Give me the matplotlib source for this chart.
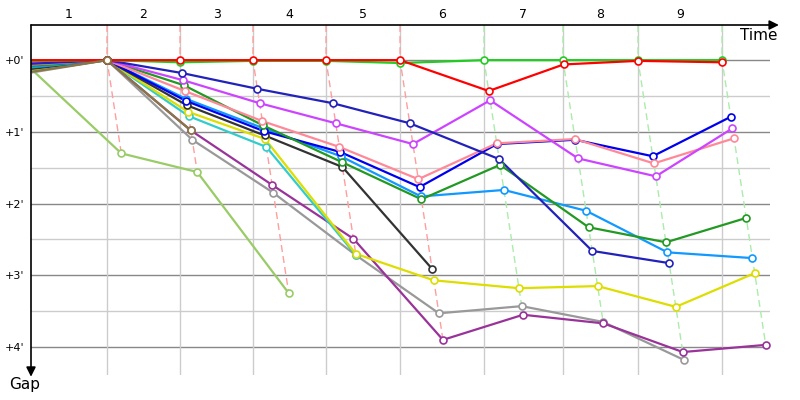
import matplotlib
matplotlib.use('Agg')
import matplotlib.pyplot as plt
import matplotlib.colors as mcolors
from matplotlib.transforms import blended_transform_factory

# leader's cumulative time (minutes) at the end of each lap, lap 0 = start
lead_times = [0, 6.91, 13.55, 20.18, 26.82, 33.55, 41.18, 48.36, 55.18, 62.82]
lap_labels = ['1', '2', '3', '4', '5', '6', '7', '8', '9']
gap_ticks = [0, 1, 2, 3, 4]
gap_labels = ["+0'", "+1'", "+2'", "+3'", "+4'"]

# gap to the leader (minutes) after each lap, lap 0 .. lap 9
red_gaps = [0, 0, 0, 0, 0, 0, 0.43, 0.06, 0.01, 0.03]
lime_gaps = [0.01, 0, 0.03, 0.01, 0.01, 0.04, 0, 0, 0, 0]
navy_gaps = [0.05, 0, 0.18, 0.40, 0.60, 0.88, 1.38, 2.66, 2.83]
magenta_gaps = [0.03, 0, 0.28, 0.60, 0.88, 1.17, 0.56, 1.37, 1.62, 0.95]
pink_gaps = [0.06, 0, 0.43, 0.85, 1.21, 1.66, 1.16, 1.10, 1.44, 1.09]
green_gaps = [0.08, 0, 0.35, 0.91, 1.42, 1.94, 1.46, 2.33, 2.54, 2.20]
blue_gaps = [0.07, 0, 0.57, 0.99, 1.28, 1.77, 1.17, 1.11, 1.34, 0.79]
sky_gaps = [0.10, 0, 0.54, 0.95, 1.34, 1.90, 1.81, 2.10, 2.68, 2.76]
black_gaps = [0.12, 0, 0.63, 1.05, 1.49, 2.91]
yellow_gaps = [0.13, 0, 0.72, 1.10, 2.70, 3.07, 3.18, 3.15, 3.44, 2.97]
cyan_gaps = [0.14, 0, 0.78, 1.21, 2.72]
purple_gaps = [0.15, 0, 0.98, 1.74, 2.49, 3.90, 3.55, 3.67, 4.07, 3.97]
gray_gaps = [0.17, 0, 1.11, 1.85, 2.72, 3.53, 3.43, 3.65, 4.18]
yellowgreen_gaps = [0.14, 1.30, 1.56, 3.25]
olive_gaps = [0.16, 0, 0.98]

# drawing order: first entries lie underneath
series = [
    (yellowgreen_gaps, '#99cc66'),
    (gray_gaps, '#999999'),
    (purple_gaps, '#993399'),
    (cyan_gaps, '#33cccc'),
    (yellow_gaps, '#dddd00'),
    (black_gaps, '#333333'),
    (sky_gaps, '#1199ff'),
    (blue_gaps, '#0000ee'),
    (green_gaps, '#229922'),
    (pink_gaps, '#ff8899'),
    (magenta_gaps, '#cc44ff'),
    (navy_gaps, '#2222bb'),
    (lime_gaps, '#22cc22'),
    (red_gaps, '#ff0000'),
    (olive_gaps, '#887744'),
]

fig = plt.figure(figsize=(8, 4), dpi=100)
ax = fig.add_axes([31 / 800, 25 / 400, 739 / 800, 350 / 400])

xmax = 67.18
ytop, ybot = -0.49, 4.39
ax.set_xlim(0, xmax)
ax.set_ylim(ybot, ytop)

# grid
for g in [0.5, 1.5, 2.5, 3.5]:
    ax.axhline(g, color='#cccccc', lw=1, zorder=0)
for g in gap_ticks:
    ax.axhline(g, color='#888888', lw=1, zorder=0)
for t in lead_times[1:]:
    ax.axvline(t, color='#cccccc', lw=1, zorder=0)

# lap lines, coloured like the lap leader
leader_order = ['#ff0000', '#22cc22']
leader_gaps = [red_gaps, lime_gaps]
for lap in range(1, len(lead_times)):
    gaps = [s[0][lap] for s in series if len(s[0]) > lap]
    lead_col = leader_order[0] if leader_gaps[0][lap] <= leader_gaps[1][lap] else leader_order[1]
    rgb = mcolors.to_rgb(lead_col)
    light = tuple(c + (1 - c) * 0.62 for c in rgb)
    t0 = lead_times[lap]
    gmax = max(gaps)
    ax.plot([t0, t0, t0 + gmax], [ytop, 0, gmax], color=light, lw=1,
            ls=(0, (5, 3)), zorder=1)

# every car: x = leader time + gap
for gaps, col in series:
    xs = [lead_times[i] + g for i, g in enumerate(gaps)]
    ax.plot(xs, gaps, color=col, lw=1.6, zorder=3, solid_joinstyle='round')
    ax.plot(xs[1:], gaps[1:], ls='none', marker='o', ms=5, mfc='white',
            mec=col, mew=1.2, zorder=4)

# lap numbers above the axis
trans = blended_transform_factory(ax.transData, ax.transAxes)
for i, lab in enumerate(lap_labels):
    mid = (lead_times[i] + lead_times[i + 1]) / 2
    ax.text(mid, 1.03, lab, transform=trans, ha='center', va='center', fontsize=9)

ax.set_xticks([])
ax.set_yticks(gap_ticks)
ax.set_yticklabels(gap_labels, fontsize=8)
ax.tick_params(axis='y', length=0, pad=5)

for side in ['right', 'bottom']:
    ax.spines[side].set_visible(False)
ax.spines['top'].set_visible(False)
ax.spines['left'].set_visible(False)

# axis arrows
ax.annotate('', xy=(1.012, 1), xytext=(0, 1), xycoords='axes fraction',
            arrowprops=dict(arrowstyle='-|>', color='black', lw=1.2,
                            mutation_scale=14, shrinkA=0, shrinkB=0))
ax.annotate('', xy=(0, -0.005), xytext=(0, 1), xycoords='axes fraction',
            arrowprops=dict(arrowstyle='-|>', color='black', lw=1.2,
                            mutation_scale=14, shrinkA=0, shrinkB=0))

fig.text(777 / 800, 1 - 35 / 400, 'Time', ha='right', va='center', fontsize=11)
fig.text(25 / 800, 1 - 385 / 400, 'Gap', ha='center', va='center', fontsize=11)

fig.savefig('out.png', dpi=100)
